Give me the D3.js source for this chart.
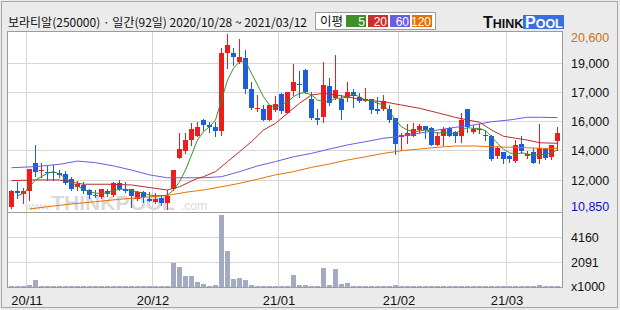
<!DOCTYPE html>
<html>
  <head>
    <meta charset="utf-8">
    <title>보라티알 일간 차트</title>
    <script src="https://d3js.org/d3.v7.min.js"></script>
    <style>
      body { margin: 0; background: #ebebeb; }
      svg { display: block; font-family: "Liberation Sans", Arial, sans-serif; }
      .grid { stroke: #d6d6d6; stroke-width: 1; shape-rendering: crispEdges; }
      .axisLabel { font-size: 12.5px; fill: #111; }
      .dateLabel { font-size: 13px; fill: #111; }
      .maLine { fill: none; stroke-width: 1; }
    </style>
  </head>
  <body>
    <svg id="chart" width="620" height="310"></svg>
    <script>
      // chart data
      const dates = [
        "2020-10-28", "2020-10-29", "2020-10-30",
        "2020-11-02", "2020-11-03", "2020-11-04", "2020-11-05", "2020-11-06", "2020-11-09", "2020-11-10",
        "2020-11-11", "2020-11-12", "2020-11-13", "2020-11-16", "2020-11-17", "2020-11-18", "2020-11-19",
        "2020-11-20", "2020-11-23", "2020-11-24", "2020-11-25", "2020-11-26", "2020-11-27", "2020-11-30",
        "2020-12-01", "2020-12-02", "2020-12-03", "2020-12-04", "2020-12-07", "2020-12-08", "2020-12-09",
        "2020-12-10", "2020-12-11", "2020-12-14", "2020-12-15", "2020-12-16", "2020-12-17", "2020-12-18",
        "2020-12-21", "2020-12-22", "2020-12-23", "2020-12-24", "2020-12-28", "2020-12-29", "2020-12-30",
        "2021-01-04", "2021-01-05", "2021-01-06", "2021-01-07", "2021-01-08", "2021-01-11", "2021-01-12",
        "2021-01-13", "2021-01-14", "2021-01-15", "2021-01-18", "2021-01-19", "2021-01-20", "2021-01-21",
        "2021-01-22", "2021-01-25", "2021-01-26", "2021-01-27", "2021-01-28", "2021-01-29",
        "2021-02-01", "2021-02-02", "2021-02-03", "2021-02-04", "2021-02-05", "2021-02-08", "2021-02-09",
        "2021-02-10", "2021-02-15", "2021-02-16", "2021-02-17", "2021-02-18", "2021-02-19", "2021-02-22",
        "2021-02-23", "2021-02-24", "2021-02-25", "2021-02-26",
        "2021-03-02", "2021-03-03", "2021-03-04", "2021-03-05", "2021-03-08", "2021-03-09", "2021-03-10",
        "2021-03-11", "2021-03-12"
      ];
      const opens = [
        10950, 11850, 11700, 11850, 13450, 12950, 12900, 12900, 12850, 12800,
        12550, 12100, 12200, 11900, 11650, 11550, 11850, 11650, 12300, 12000,
        12000, 11400, 11800, 11400, 11250, 11450, 11200, 11950, 13700, 14100,
        14700, 14950, 15800, 15550, 15400, 15200, 19550, 19550, 19050, 19250,
        17550, 16450, 16450, 15800, 16400, 17250, 16200, 17450, 17800, 18600,
        17000, 15950, 16000, 17700, 17050, 17000, 17050, 17400, 17100, 16850,
        17000, 16450, 16450, 16450, 15950, 14850, 14900, 14950, 15250, 15500,
        15350, 14450, 14900, 15350, 15150, 14900, 16450, 15150, 15250, 15000,
        14900, 13800, 14050, 13800, 13550, 14500, 13800, 14050, 13650, 14200,
        13750, 14650
      ];
      const highs = [
        11900, 12350, 12050, 13100, 14400, 13450, 13250, 13300, 13050, 12950,
        12650, 12400, 12350, 11950, 11900, 12000, 11950, 12350, 12450, 12350,
        12000, 11850, 11850, 11800, 11750, 11650, 11900, 13050, 15100, 15100,
        15650, 15700, 15900, 15700, 15700, 19800, 20600, 19800, 20350, 19700,
        17950, 17200, 16650, 16650, 17150, 17300, 17400, 18950, 18550, 18650,
        17350, 16450, 19050, 18150, 19450, 17200, 17950, 17550, 17300, 17600,
        17000, 17100, 17200, 16650, 15950, 15100, 15600, 15650, 15600, 15500,
        15400, 15150, 15400, 15400, 15200, 16200, 16450, 15550, 15600, 15250,
        15000, 14350, 14050, 13850, 14700, 14900, 14100, 14250, 15600, 14250,
        14450, 15450
      ];
      const lows = [
        10900, 11450, 11200, 11350, 12700, 12650, 12500, 12500, 12650, 12250,
        11900, 11900, 11750, 11450, 11550, 11500, 11600, 11600, 11900, 11800,
        10950, 11350, 11250, 11300, 11200, 11100, 10850, 11900, 13700, 14000,
        14400, 14900, 15250, 15150, 14950, 15000, 18700, 18900, 19000, 17300,
        16450, 16300, 15800, 15800, 16300, 16200, 16200, 17200, 17100, 17300,
        15900, 15600, 15700, 16650, 17000, 15900, 16850, 16550, 16800, 16850,
        16200, 16200, 16350, 15700, 13950, 14150, 14550, 14900, 15150, 14800,
        14450, 14450, 14450, 14900, 14600, 14600, 15150, 15100, 15100, 14700,
        13600, 13700, 13450, 13500, 13500, 14000, 13700, 13450, 13400, 13650,
        13650, 14150
      ];
      const closes = [
        11850, 11750, 11850, 13100, 12900, 13050, 12850, 12850, 12750, 12300,
        12000, 12250, 11850, 11650, 11600, 11950, 11700, 12300, 11950, 11850,
        11600, 11800, 11550, 11300, 11400, 11200, 11600, 13050, 14200, 14700,
        15300, 15400, 15550, 15400, 15200, 19550, 20000, 19300, 19300, 17550,
        16500, 16500, 15800, 16650, 16700, 16300, 17400, 17950, 17750, 17350,
        15950, 15800, 17750, 16750, 17500, 16350, 17400, 17150, 16900, 17000,
        16350, 16300, 16850, 15800, 14500, 15000, 15100, 15300, 15500, 15250,
        14450, 14900, 15300, 14950, 14900, 15800, 15450, 15300, 15300, 14900,
        13650, 14250, 13650, 13650, 14450, 14100, 13900, 13450, 14250, 13700,
        14450, 15100
      ];
      // volume, thousands of shares
      const volumes = [
        90, 90, 90, 220, 640, 170, 80, 140, 90, 80,
        80, 80, 90, 80, 80, 80, 80, 80, 80, 80,
        140, 80, 80, 80, 80, 80, 80, 2040, 1710, 970,
        970, 470, 300, 170, 220, 6050, 3035, 720, 800, 640,
        220, 170, 170, 170, 80, 170, 170, 1050, 220, 220,
        90, 90, 1630, 220, 1545, 330, 410, 140, 80, 140,
        80, 140, 140, 80, 220, 80, 80, 80, 80, 80,
        80, 80, 80, 80, 80, 140, 140, 80, 80, 80,
        80, 80, 80, 80, 80, 140, 80, 80, 220, 80,
        80, 80
      ];
      // moving averages
      const ma5 = [
        null, 11600, 11740, 12100, 12480, 12660, 12850, 12940, 12810, 12570,
        12330, 12140, 11960, 11820, 11740, 11740, 11770, 11880, 11960, 11960,
        11880, 11820, 11740, 11640, 11600, 11590, 11640, 11920, 12380, 13030,
        13870, 14700, 15170, 15440, 15820, 16930, 18040, 18700, 19060, 19060,
        18420, 17770, 17110, 16650, 16520, 16650, 16840, 17110, 17300, 17340,
        17210, 16930, 16840, 16840, 17030, 17030, 17110, 17260, 17110, 16930,
        16890, 16750, 16650, 16280, 15820, 15440, 15260, 15170, 15200, 15260,
        15200, 15080, 15130, 15080, 15080, 15260, 15390, 15350, 15350, 15220,
        14890, 14520, 14190, 14000, 13870, 14000, 13920, 13870, 13870, 13920,
        14000, 14150
      ];
      const ma20 = [
        [0, 12440], [4, 12480], [8, 12480], [12, 12240], [16, 12240], [20, 12200], [24, 12010],
        [26, 11920], [28, 12100], [31, 12570], [32, 12660], [34, 12940], [36, 13500], [38, 14050],
        [40, 14610], [42, 15260], [44, 15630], [46, 16190], [48, 16750], [50, 17210], [52, 17300],
        [54, 17210], [56, 17110], [58, 16970], [60, 16890], [62, 16840], [64, 16710], [65, 16650],
        [68, 16470], [71, 16220], [74, 15960], [76, 15820], [78, 15690], [80, 15260], [82, 14910],
        [84, 14800], [86, 14700], [88, 14550], [91, 14520]
      ];
      const ma60 = [
        [0, 13160], [4, 13220], [8, 13350], [11, 13530], [14, 13440], [17, 13260], [20, 13030],
        [23, 12760], [26, 12600], [29, 12600], [32, 12600], [35, 12660], [38, 12940], [41, 13260],
        [44, 13500], [47, 13770], [50, 13960], [53, 14200], [56, 14430], [59, 14610], [62, 14800],
        [65, 14910], [68, 15080], [71, 15260], [74, 15410], [77, 15540], [80, 15720], [83, 15820],
        [86, 15970], [88, 15970], [91, 15950]
      ];
      const ma120 = [
        [3, 10860], [6, 10990], [10, 11140], [14, 11270], [18, 11400], [22, 11510], [26, 11620],
        [29, 11790], [31, 11880], [32, 11920], [35, 12100], [38, 12290], [41, 12520], [44, 12760],
        [47, 12940], [50, 13180], [53, 13370], [56, 13590], [59, 13770], [62, 13960], [64, 14050],
        [65, 14110], [68, 14200], [71, 14300], [74, 14370], [77, 14370], [80, 14330], [83, 14300],
        [86, 14270], [88, 14240], [91, 14240]
      ];
      const priceMin = 10850;
      const priceMax = 20600;
      const priceTicks = [12475, 14100, 15725, 17350, 18975];
      const priceTickLabels = ["12,000", "14,000", "16,000", "17,000", "19,000"];
      const volMax = 6240;
      const volTicks = [4160, 2091];
      const volTickLabels = ["4160", "2091"];
      const monthStarts = ["2020-11-02", "2020-12-01", "2021-01-04", "2021-02-01", "2021-03-02"];
      const monthLabels = ["20/11", "20/12", "21/01", "21/02", "21/03"];
      const maNames = ["5", "20", "60", "120"];

      const maColors = ["#3d8f26", "#c02a2a", "#6b5ce0", "#e27308"];
      const legendColors = ["#3d8f26", "#c9302c", "#6b5ce0", "#e27308"];
      const upColor = "#ee1c1c";
      const downColor = "#1f5cdc";

      // page elements
      const svg = d3.select("#chart");
      const plot = { left: 7.5, right: 562.5, top: 31.5, split: 212.5, bottom: 287.5 };

      const x = d3.scaleBand()
        .domain(dates)
        .range([8.5, 560.5])
        .paddingInner(0.2)
        .paddingOuter(0.1);
      const y = d3.scaleLinear()
        .domain([priceMin, priceMax])
        .range([209.2, 34.1]);
      const yv = d3.scaleLinear()
        .domain([0, volMax])
        .range([288, 212.6]);
      const crisp = v => Math.floor(v) + 0.5;
      const barX = d => Math.floor(x(d));

      // frame
      svg.append("rect")
        .attr("x", 1.5).attr("y", 1.5)
        .attr("width", 616).attr("height", 306)
        .attr("fill", "#ebebeb")
        .attr("stroke", "#a6a6a6");
      svg.append("rect")
        .attr("x", plot.left).attr("y", plot.top)
        .attr("width", plot.right - plot.left)
        .attr("height", plot.bottom - plot.top)
        .attr("fill", "#fff");

      // grid
      const grid = svg.append("g");
      grid.selectAll(".hp")
        .data(priceTicks)
        .enter().append("line")
          .attr("class", "grid")
          .attr("x1", plot.left).attr("x2", plot.right)
          .attr("y1", d => crisp(y(d))).attr("y2", d => crisp(y(d)));
      grid.selectAll(".hv")
        .data(volTicks)
        .enter().append("line")
          .attr("class", "grid")
          .attr("x1", plot.left).attr("x2", plot.right)
          .attr("y1", d => crisp(yv(d))).attr("y2", d => crisp(yv(d)));
      grid.selectAll(".vm")
        .data(monthStarts)
        .enter().append("line")
          .attr("class", "grid")
          .attr("x1", d => Math.floor(x(d)) - 0.5).attr("x2", d => Math.floor(x(d)) - 0.5)
          .attr("y1", plot.top).attr("y2", plot.bottom);

      // watermark
      const wm = svg.append("text")
        .attr("x", 25).attr("y", 210)
        .attr("fill", "#d9d9d9")
        .attr("font-weight", "bold");
      wm.append("tspan").attr("font-size", "11px").attr("font-weight", "normal").text("www.");
      wm.append("tspan").attr("font-size", "21px").text("THINKPOOL");
      wm.append("tspan").attr("font-size", "12px").attr("font-weight", "normal").attr("dx", 6).text(".com");

      // volume bars
      svg.append("g").selectAll("rect")
        .data(dates)
        .enter().append("rect")
          .attr("x", d => barX(d))
          .attr("width", 5)
          .attr("y", (d, i) => Math.min(286, Math.round(yv(volumes[i]))))
          .attr("height", (d, i) => 287 - Math.min(286, Math.round(yv(volumes[i]))))
          .attr("fill", "#a3abc2");

      // candles
      const candles = svg.append("g").selectAll("g")
        .data(dates)
        .enter().append("g");
      candles.append("line")
        .attr("x1", d => barX(d) + 2.5).attr("x2", d => barX(d) + 2.5)
        .attr("y1", (d, i) => Math.round(y(highs[i])))
        .attr("y2", (d, i) => Math.round(y(lows[i])) + 1)
        .attr("stroke", (d, i) => closes[i] >= opens[i] ? upColor : downColor);
      candles.append("rect")
        .attr("x", d => barX(d))
        .attr("width", 5)
        .attr("y", (d, i) => Math.round(y(Math.max(opens[i], closes[i]))))
        .attr("height", (d, i) => Math.max(1,
          Math.round(y(Math.min(opens[i], closes[i]))) - Math.round(y(Math.max(opens[i], closes[i])))))
        .attr("fill", (d, i) => closes[i] >= opens[i] ? upColor : downColor);

      // moving averages
      const mid = i => x(dates[i]) + x.bandwidth() / 2;
      const line = d3.line()
        .defined(d => d[1] != null)
        .x(d => mid(d[0]))
        .y(d => y(d[1]));
      [ma120, ma60, ma20, ma5.map((v, i) => [i, v])].forEach(function(series, k) {
        svg.append("path")
          .attr("class", "maLine")
          .attr("stroke", maColors[3 - k])
          .attr("d", line(series));
      });

      // plot borders
      svg.append("rect")
        .attr("x", plot.left).attr("y", plot.top)
        .attr("width", plot.right - plot.left)
        .attr("height", plot.bottom - plot.top)
        .attr("fill", "none")
        .attr("stroke", "#9c9c9c");
      svg.append("line")
        .attr("x1", plot.left).attr("x2", plot.right)
        .attr("y1", plot.split).attr("y2", plot.split)
        .attr("stroke", "#9c9c9c");

      // price labels
      svg.selectAll(".pl")
        .data(priceTicks)
        .enter().append("text")
          .attr("class", "axisLabel")
          .attr("x", 571)
          .attr("y", d => y(d) + 4.5)
          .text((d, i) => priceTickLabels[i]);
      svg.append("text")
        .attr("class", "axisLabel")
        .attr("x", 571).attr("y", y(priceMax) + 8)
        .style("fill", "#d2700f")
        .text(d3.format(",")(priceMax));
      svg.append("text")
        .attr("class", "axisLabel")
        .attr("x", 571).attr("y", y(priceMin) + 2)
        .style("fill", "#1010c8")
        .text(d3.format(",")(priceMin));

      // volume labels
      svg.selectAll(".vl")
        .data(volTicks)
        .enter().append("text")
          .attr("class", "axisLabel")
          .attr("x", 571)
          .attr("y", d => yv(d) + 4.5)
          .text((d, i) => volTickLabels[i]);
      svg.append("text")
        .attr("class", "axisLabel")
        .attr("x", 571).attr("y", 291)
        .text("x1000");

      // month labels
      svg.selectAll(".ml")
        .data(monthStarts)
        .enter().append("text")
          .attr("class", "dateLabel")
          .attr("text-anchor", "middle")
          .attr("x", d => Math.floor(x(d)))
          .attr("y", 305)
          .text((d, i) => monthLabels[i]);

      // header
      svg.append("text")
        .attr("x", 8).attr("y", 27)
        .attr("font-family", "'Noto Sans CJK KR', sans-serif")
        .attr("font-size", "12px")
        .attr("fill", "#111")
        .text("보라티알(250000) · 일간(92일) 2020/10/28 ~ 2021/03/12");

      // legend
      const legend = svg.append("g");
      legend.append("rect")
        .attr("x", 315.5).attr("y", 12.5)
        .attr("width", 120).attr("height", 17)
        .attr("fill", "#fff")
        .attr("stroke", "#9c9c9c");
      legend.append("text")
        .attr("x", 320).attr("y", 26)
        .attr("font-family", "'Noto Sans CJK KR', sans-serif")
        .attr("font-size", "12.5px")
        .attr("fill", "#111")
        .text("이평");
      const boxX = [346, 368, 390, 412];
      maNames.forEach(function(name, i) {
        legend.append("rect")
          .attr("x", boxX[i]).attr("y", 15)
          .attr("width", 20).attr("height", 12)
          .attr("fill", legendColors[i]);
        legend.append("text")
          .attr("x", boxX[i] + 19).attr("y", 25.5)
          .attr("text-anchor", "end")
          .attr("font-size", "12px")
          .attr("fill", "#fff")
          .text(name);
      });

      // logo
      const logo = svg.append("g");
      logo.append("rect")
        .attr("x", 523).attr("y", 15)
        .attr("width", 41).attr("height", 14)
        .attr("fill", "#3b6fe0");
      const logoText = logo.append("text")
        .attr("x", 483).attr("y", 28)
        .attr("font-weight", "bold")
        .attr("fill", "#111");
      logoText.append("tspan").attr("font-size", "16px").text("T");
      logoText.append("tspan").attr("font-size", "12.5px").text("HINK");
      const poolText = logo.append("text")
        .attr("x", 525).attr("y", 28)
        .attr("font-weight", "bold")
        .attr("fill", "#fff");
      poolText.append("tspan").attr("font-size", "16px").text("P");
      poolText.append("tspan").attr("font-size", "12.5px").text("OOL");
    </script>
  </body>
</html>
